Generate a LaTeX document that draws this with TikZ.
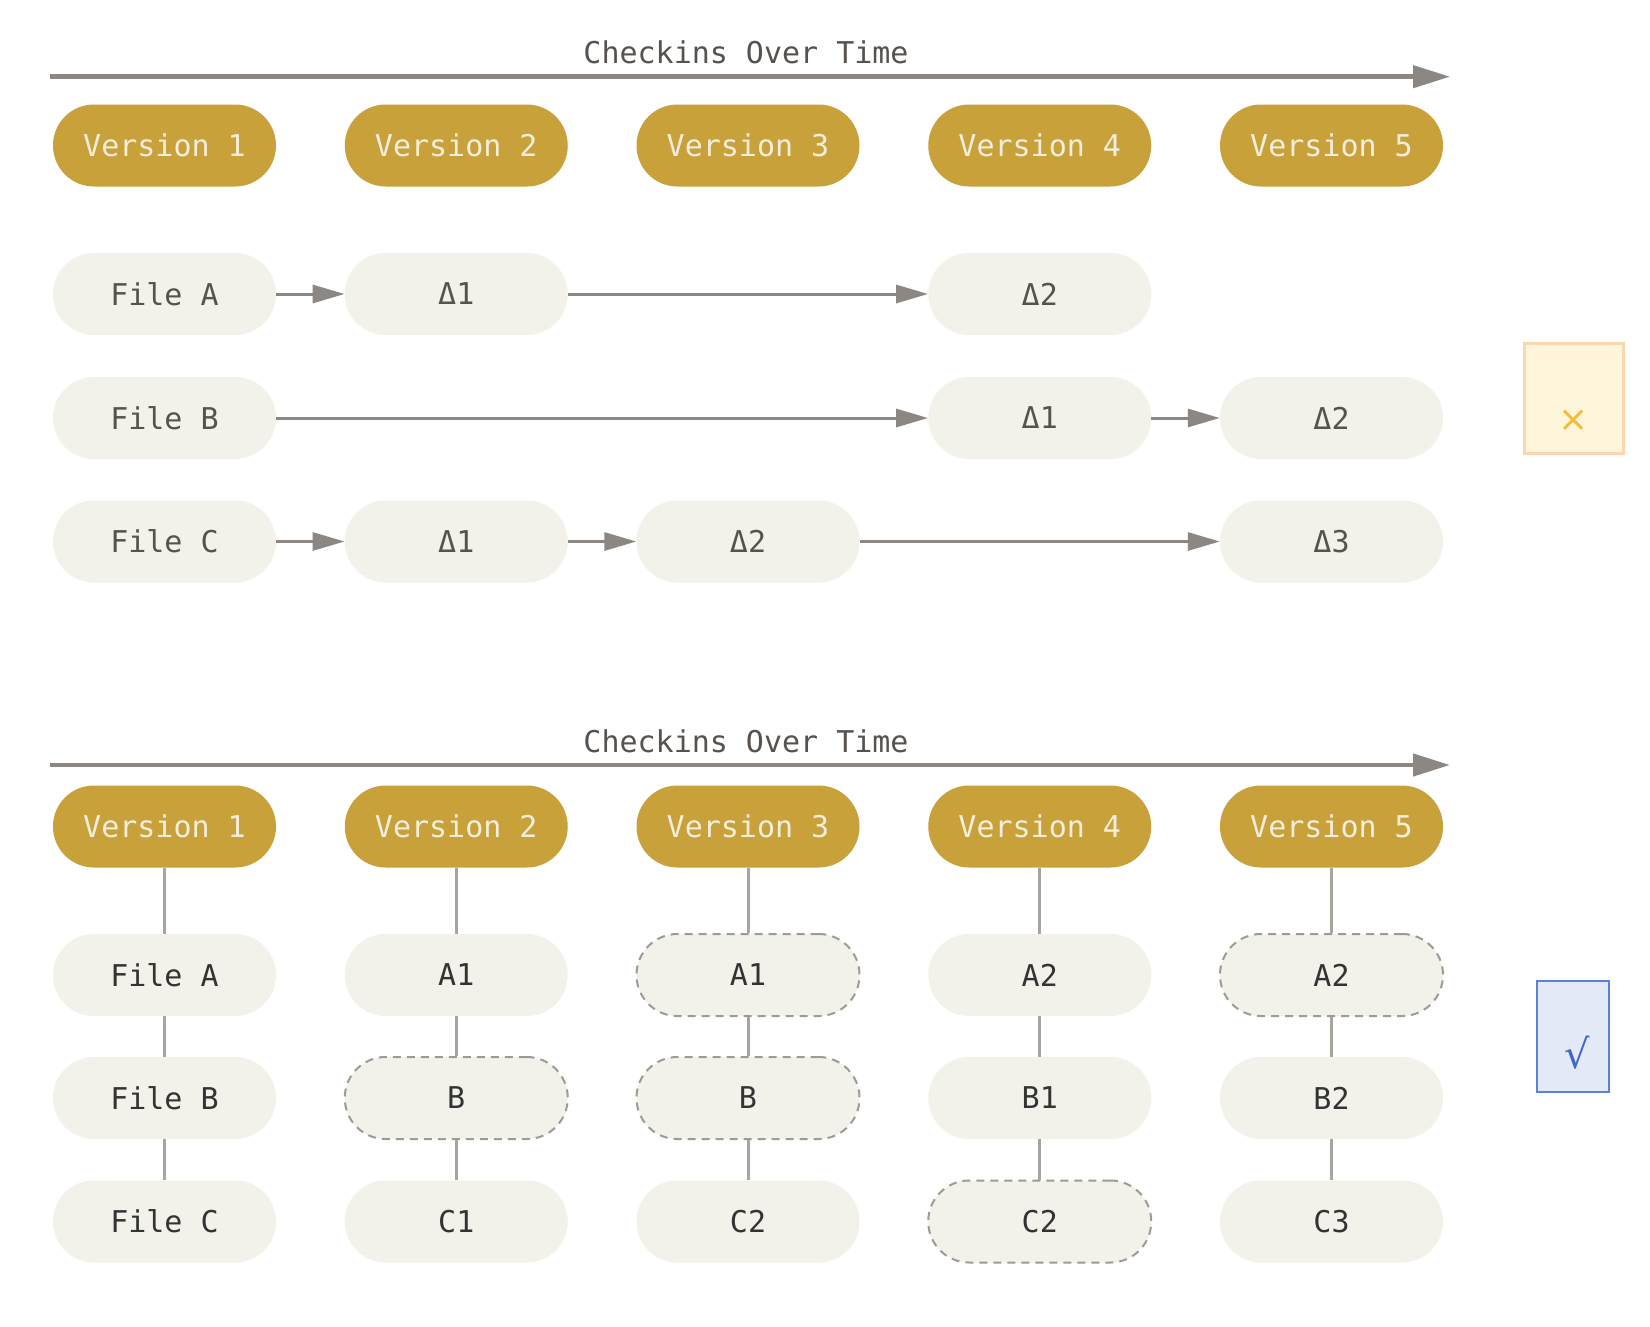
\documentclass[tikz,border=0pt]{standalone}
\usepackage{fontspec}
\usetikzlibrary{arrows.meta}
\newfontfamily\monofnt{DejaVu Sans Mono}
\newfontfamily\symfnt{DejaVu Sans}
\definecolor{gold}{HTML}{C9A13B}
\definecolor{goldtxt}{HTML}{F3EEDC}
\definecolor{pill}{HTML}{F2F1EA}
\definecolor{linegray}{HTML}{8C8782}
\definecolor{vgray}{HTML}{A8A49F}
\definecolor{dashgray}{HTML}{9E9B97}
\definecolor{toptxt}{HTML}{57524D}
\definecolor{bottxt}{HTML}{333333}
\definecolor{xfill}{HTML}{FFF5DA}
\definecolor{xedge}{HTML}{F9D7B0}
\definecolor{xmark}{HTML}{F2BC3A}
\definecolor{cfill}{HTML}{E3E9F6}
\definecolor{cedge}{HTML}{5B82D6}
\definecolor{cmark}{HTML}{3F67C8}
\tikzset{
  pillbase/.style={rounded corners=40.9pt, minimum width=223pt, minimum height=82pt, inner sep=0pt,
    font=\monofnt\fontsize{30}{36}\selectfont},
  ver/.style={pillbase, fill=gold, text=goldtxt},
  filetop/.style={pillbase, fill=pill, text=toptxt},
  filebot/.style={pillbase, fill=pill, text=bottxt},
  ghost/.style={filebot, draw=dashgray, line width=2pt, dash pattern=on 8pt off 6pt},
  title/.style={font=\monofnt\fontsize{30}{36}\selectfont, text=toptxt, inner sep=0pt, anchor=base},
  timeline/.style={draw=linegray, line width=4.5pt, -{Triangle[length=37pt,width=22pt]}},
  delta/.style={draw=linegray, line width=3pt, -{Triangle[length=32pt,width=18pt]}},
  link/.style={draw=vgray, line width=3pt},
}
\begin{document}
\begin{tikzpicture}[x=1pt,y=-1pt]
\useasboundingbox (0,0) rectangle (1650,1326);
\fill[white] (0,0) rectangle (1650,1326);
% ---------- top section ----------
\node[title] (t1) at (746,63) {Checkins Over Time};
\coordinate (ts1) at (50,76.7);
\coordinate (te1) at (1450,76.7);
\draw[timeline] (ts1) -- (te1);
\foreach \i/\x in {1/164.5,2/456.25,3/748,4/1039.75,5/1331.5}{
  \node[ver] (tv\i) at (\x,145.5) {Version \i};
}
\node[filetop] (tfa) at (164.5,294) {File A};
\node[filetop] (tfb) at (164.5,418) {File B};
\node[filetop] (tfc) at (164.5,541.5) {File C};
\node[filetop] (ta2) at (456.25,294) {Δ1};
\node[filetop] (ta4) at (1039.75,294) {Δ2};
\node[filetop] (tb4) at (1039.75,418) {Δ1};
\node[filetop] (tb5) at (1331.5,418) {Δ2};
\node[filetop] (tc2) at (456.25,541.5) {Δ1};
\node[filetop] (tc3) at (748,541.5) {Δ2};
\node[filetop] (tc5) at (1331.5,541.5) {Δ3};
\draw[delta] (tfa) -- (ta2);
\draw[delta] (ta2) -- (ta4);
\draw[delta] (tfb) -- (tb4);
\draw[delta] (tb4) -- (tb5);
\draw[delta] (tfc) -- (tc2);
\draw[delta] (tc2) -- (tc3);
\draw[delta] (tc3) -- (tc5);
% cross marker
\node[draw=xedge, fill=xfill, line width=3pt, minimum width=99pt, minimum height=110pt, inner sep=0pt] (xbox) at (1573.5,398) {};
\node[font=\symfnt\fontsize{36}{40}\selectfont, text=xmark, inner sep=0pt] (xsym) at (1574,420.7) {×};
% ---------- bottom section ----------
\node[title] (t2) at (746,752.7) {Checkins Over Time};
\coordinate (ts2) at (50,765);
\coordinate (te2) at (1450,765);
\draw[timeline] (ts2) -- (te2);
\foreach \i/\x in {1/164.5,2/456.25,3/748,4/1039.75,5/1331.5}{
  \node[ver] (bv\i) at (\x,826.5) {Version \i};
}
% column 1
\node[filebot] (b1a) at (164.5,975) {File A};
\node[filebot] (b1b) at (164.5,1098) {File B};
\node[filebot] (b1c) at (164.5,1221.5) {File C};
% column 2
\node[filebot] (b2a) at (456.25,975) {A1};
\node[ghost]   (b2b) at (456.25,1098) {B};
\node[filebot] (b2c) at (456.25,1221.5) {C1};
% column 3
\node[ghost]   (b3a) at (748,975) {A1};
\node[ghost]   (b3b) at (748,1098) {B};
\node[filebot] (b3c) at (748,1221.5) {C2};
% column 4
\node[filebot] (b4a) at (1039.75,975) {A2};
\node[filebot] (b4b) at (1039.75,1098) {B1};
\node[ghost]   (b4c) at (1039.75,1221.5) {C2};
% column 5
\node[ghost]   (b5a) at (1331.5,975) {A2};
\node[filebot] (b5b) at (1331.5,1098) {B2};
\node[filebot] (b5c) at (1331.5,1221.5) {C3};
\foreach \i in {1,...,5}{
  \draw[link] (bv\i.south) -- (b\i a.north);
  \draw[link] (b\i a.south) -- (b\i b.north);
  \draw[link] (b\i b.south) -- (b\i c.north);
}
% check marker
\node[draw=cedge, fill=cfill, line width=2.5pt, minimum width=72pt, minimum height=111pt, inner sep=0pt] (cbox) at (1573,1036.5) {};
\node[font=\symfnt\fontsize{40}{44}\selectfont, text=cmark, inner sep=0pt] (csym) at (1577,1053) {√};
\end{tikzpicture}
\end{document}
